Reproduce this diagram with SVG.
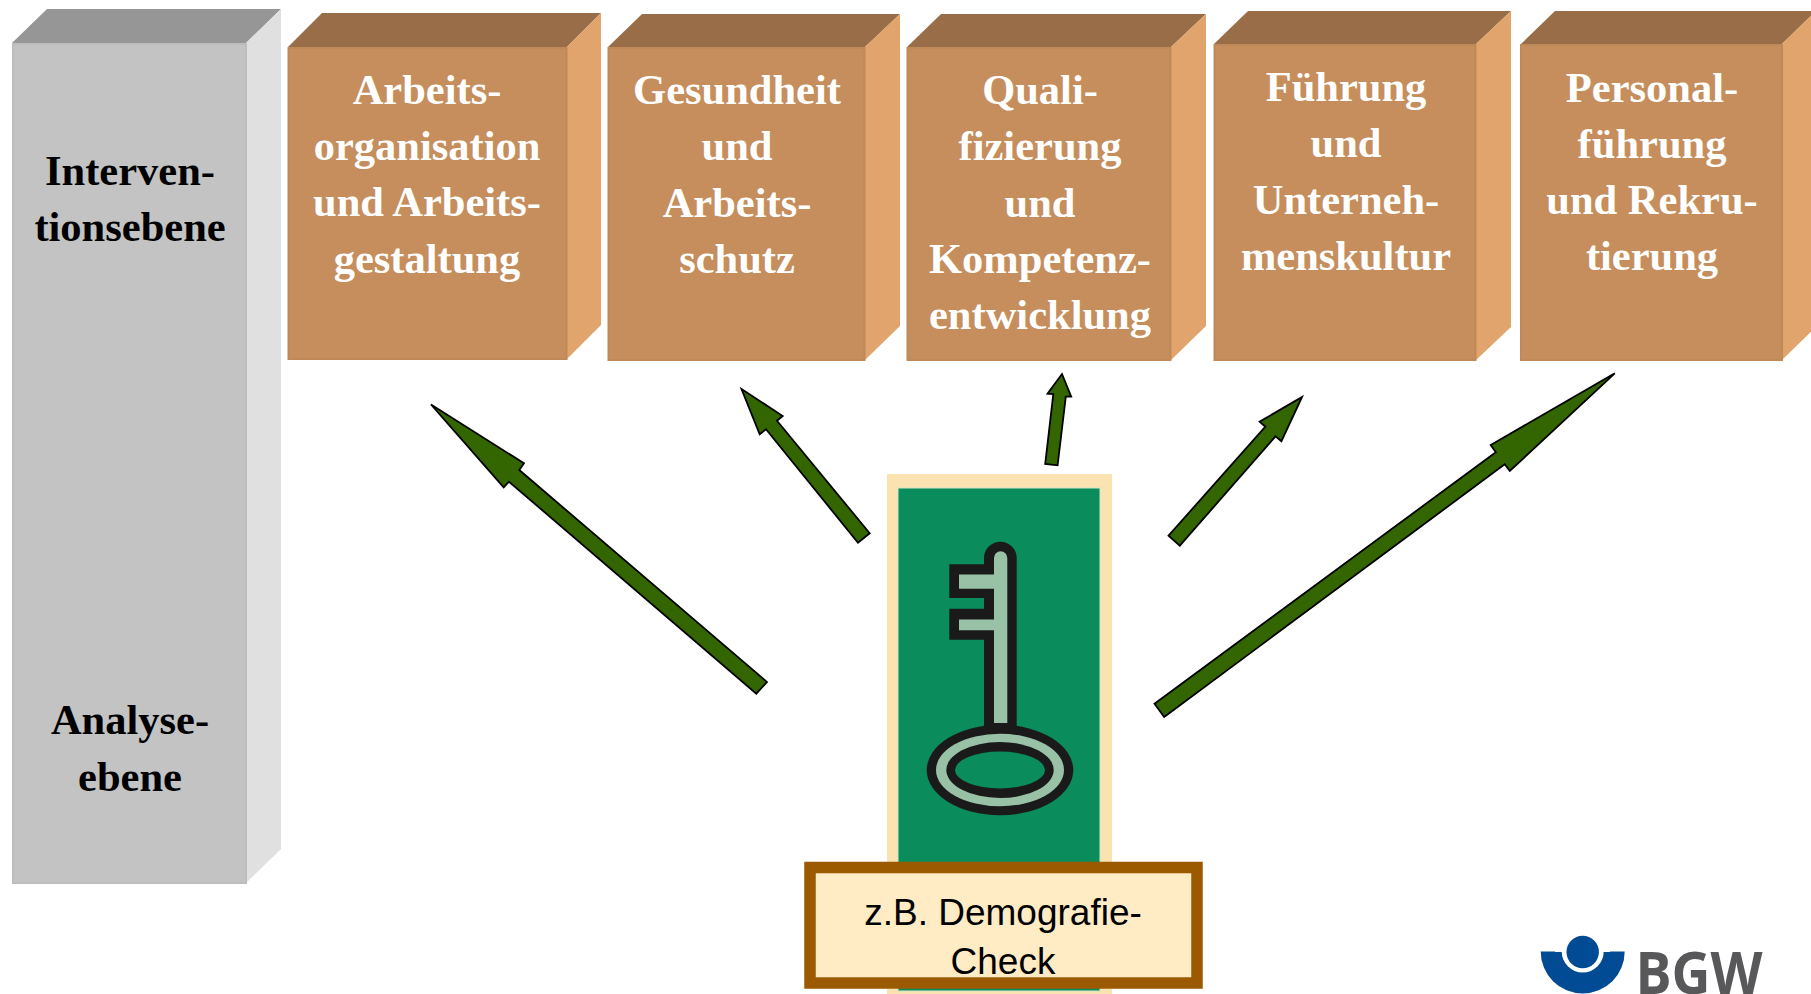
<svg xmlns="http://www.w3.org/2000/svg" width="1811" height="994" viewBox="0 0 1811 994">
<style>
.front{fill:#c58e5c;stroke:#bf8958;stroke-width:2}
.top{fill:#986d48}
.side{fill:#e0a46c}
.gfront{fill:#c3c3c3;stroke:#bdbdbd;stroke-width:2}
.gtop{fill:#969696}
.gside{fill:#e0e0e0}
text{font-family:"Liberation Serif","Times New Roman",serif;font-weight:700;font-size:42.5px;text-anchor:middle}
.w{fill:#fff}
.k{fill:#000}
.arrow{fill:#336600;stroke:#000;stroke-width:1.8;stroke-linejoin:miter}
.label{font-family:"Liberation Sans",Arial,sans-serif;font-weight:400;font-size:37px;fill:#000}
.logo{font-family:"Open Sans","Noto Sans",sans-serif;font-weight:700;font-size:59px;fill:#58585a}
</style>
<rect width="1811" height="994" fill="#fff"/>
<g id="ebenen">
<polygon class="gtop" points="12,43 47,9 281,9 246,43"/>
<polygon class="gside" points="246,43 281,9 281,849 246,883"/>
<rect class="gfront" x="13" y="44" width="233" height="839"/>
<text class="k"><tspan x="130" y="185">Interven-</tspan><tspan x="130" y="241">tionsebene</tspan></text>
<text class="k"><tspan x="130" y="734">Analyse-</tspan><tspan x="130" y="791">ebene</tspan></text>
</g>
<g id="box1">
<polygon class="top" points="288,47 322,13 601,13 567,47"/>
<polygon class="side" points="567,47 601,13 601,325 567,359"/>
<rect class="front" x="288.500" y="48" width="278" height="311"/>
<text class="w"><tspan x="427" y="104">Arbeits-</tspan><tspan x="427" y="160">organisation</tspan><tspan x="427" y="216">und Arbeits-</tspan><tspan x="427" y="273">gestaltung</tspan></text>
</g>
<g id="box2">
<polygon class="top" points="608,47 642,14 900,14 865,47"/>
<polygon class="side" points="865,47 900,14 900,326 865,360"/>
<rect class="front" x="608.500" y="48" width="256" height="312"/>
<text class="w"><tspan x="737" y="104">Gesundheit</tspan><tspan x="737" y="160">und</tspan><tspan x="737" y="217">Arbeits-</tspan><tspan x="737" y="273">schutz</tspan></text>
</g>
<g id="box3">
<polygon class="top" points="907,47 941,14 1206,14 1171,47"/>
<polygon class="side" points="1171,47 1206,14 1206,326 1171,360"/>
<rect class="front" x="907.500" y="48" width="263" height="312"/>
<text class="w"><tspan x="1040" y="104">Quali-</tspan><tspan x="1040" y="160">fizierung</tspan><tspan x="1040" y="216.500">und</tspan><tspan x="1040" y="273">Kompetenz-</tspan><tspan x="1040" y="329">entwicklung</tspan></text>
</g>
<g id="box4">
<polygon class="top" points="1214,44 1248,11 1511,11 1476,44"/>
<polygon class="side" points="1476,44 1511,11 1511,327 1476,360"/>
<rect class="front" x="1214.500" y="45" width="261" height="315"/>
<text class="w"><tspan x="1346" y="101">Führung</tspan><tspan x="1346" y="157">und</tspan><tspan x="1346" y="214">Unterneh-</tspan><tspan x="1346" y="270">menskultur</tspan></text>
</g>
<g id="box5">
<polygon class="top" points="1521,44 1555,11 1816,11 1782,44"/>
<polygon class="side" points="1782,44 1816,11 1816,327 1782,360"/>
<rect class="front" x="1521" y="45" width="261" height="315"/>
<text class="w"><tspan x="1652" y="102">Personal-</tspan><tspan x="1652" y="158">führung</tspan><tspan x="1652" y="214">und Rekru-</tspan><tspan x="1652" y="270">tierung</tspan></text>
</g>
<g id="connectors">
<polygon class="arrow" points="431,404.500 524,463.3 519.3,470 767,682 756.3,693.7 509,481.7 503.7,487.300"/>
<polygon class="arrow" points="741.500,389 782.7,416 777,420.7 869.7,533.3 858,542.7 766,429.3 759.7,434.3"/>
<polygon class="arrow" points="1062,374 1071.2,396.7 1065.8,396.7 1057.6,465.3 1045.2,464 1053.3,394 1047.5,393.7"/>
<polygon class="arrow" points="1302,397 1281.4,441.3 1275.5,436.3 1179.8,545.7 1168.5,535.7 1265.4,426.7 1259.6,421.7"/>
<polygon class="arrow" points="1614.8,373.3 1509.8,471 1504.7,464.3 1164.2,717 1154.5,703.7 1495.8,452.3 1490.7,445"/>
</g>
<g id="key">
<rect x="887" y="474" width="225" height="520" fill="#fbe3b1"/>
<rect x="898" y="488" width="202" height="503" fill="#0b8c5c" stroke="#cfe6c8" stroke-width="1"/>
<path d="M949.3,564.200H984V558a16.3,16.3 0 0 1 32.7,0V732H984V639.800H949.3V608.800H984V598H949.3Z" fill="#1a1a1a"/>
<ellipse cx="1000" cy="770" rx="73.300" ry="45.300" fill="#1a1a1a"/>
<path d="M959,574.400H994V558a6.600,6.600 0 0 1 13.300,0V723H994V630.300H959V619.400H994V588.700H959Z" fill="#98c1a6"/>
<ellipse cx="1000" cy="770" rx="64" ry="36.300" fill="#98c1a6"/>
<ellipse cx="1000" cy="770" rx="53.700" ry="28" fill="#1a1a1a"/>
<ellipse cx="1000" cy="770" rx="45" ry="18.500" fill="#0b8c5c"/>
</g>
<g id="check">
<rect x="810" y="867.500" width="387" height="115.500" fill="#ffebc4" stroke="#9c5a00" stroke-width="11.500"/>
<text class="label"><tspan x="1003" y="924.500">z.B. Demografie-</tspan><tspan x="1003" y="973.500">Check</tspan></text>
</g>
<g id="logo">
<path d="M1540.7,951.500H1624.7A42,42 0 0 1 1540.7,951.500Z" fill="#004b93"/>
<circle cx="1582.7" cy="951.500" r="21" fill="#fff"/>
<rect x="1555" y="946" width="55" height="6" fill="#fff"/>
<circle cx="1582.7" cy="952" r="16.200" fill="#004b93"/>
<text class="logo" x="1699" y="993.500" textLength="127" lengthAdjust="spacingAndGlyphs">BGW</text>
</g>
</svg>
